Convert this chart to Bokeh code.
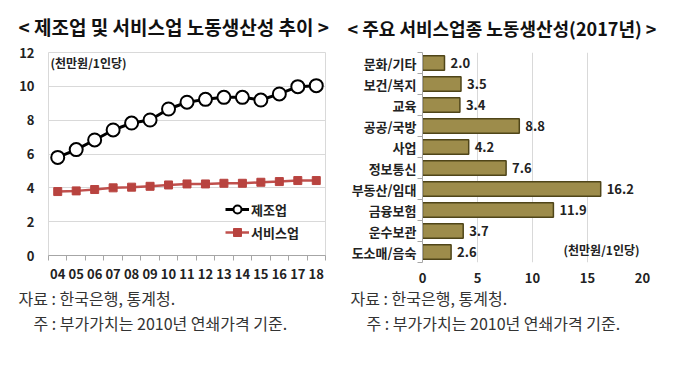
from bokeh.plotting import figure
from bokeh.layouts import row, column
from bokeh.models import (Range1d, FixedTicker, Label, Legend, LegendItem,
                          ColumnDataSource, LabelSet)
from bokeh.core.properties import value
from bokeh.embed import file_html
from bokeh.resources import INLINE

# ---------------- data ----------------
years = ["04", "05", "06", "07", "08", "09", "10", "11", "12", "13", "14", "15", "16", "17", "18"]
manufacturing = [5.80, 6.26, 6.83, 7.42, 7.83, 8.01, 8.66, 9.06, 9.23, 9.35, 9.35, 9.19, 9.55, 9.98, 10.04]
services = [3.78, 3.82, 3.90, 4.00, 4.04, 4.09, 4.17, 4.23, 4.23, 4.27, 4.27, 4.33, 4.37, 4.43, 4.43]
left_y_ticks = [0, 2, 4, 6, 8, 10, 12]

industries = ["문화/기타", "보건/복지", "교육", "공공/국방", "사업", "정보통신",
              "부동산/임대", "금융보험", "운수보관", "도소매/음숙"]
productivity_2017 = [2.0, 3.5, 3.4, 8.8, 4.2, 7.6, 16.2, 11.9, 3.7, 2.6]
right_x_ticks = [0, 5, 10, 15, 20]

title_left = "< 제조업 및 서비스업 노동생산성 추이 >"
title_right = "< 주요 서비스업종 노동생산성(2017년) >"
unit_text = "(천만원/1인당)"
legend_labels = ["제조업", "서비스업"]
source_text = "자료 : 한국은행, 통계청."
note_text = "주 : 부가가치는 2010년 연쇄가격 기준."

FONT = "Noto Sans CJK KR"
TXT = "#222222"
HALF_W = 340
TOP_H = 40
FOOT_H = 80


def strip(height):
    s = figure(width=HALF_W, height=height, min_border=0,
               x_range=Range1d(0, HALF_W), y_range=Range1d(height, 0),
               output_backend="svg", toolbar_location=None, tools="", title=None)
    s.axis.visible = False
    s.grid.grid_line_color = None
    s.outline_line_color = None
    return s


def txt(fig, x, y, text, size, bold=False, color=TXT):
    fig.add_layout(Label(x=x, y=y, text=text, text_font=FONT, text_font_size=size,
                         text_font_style="bold" if bold else "normal",
                         text_color=color, text_baseline="middle"))


# ---------------- title strips ----------------
t1 = strip(TOP_H)
txt(t1, 18, 26, title_left, "19px", True, "#111111")
t2 = strip(TOP_H)
txt(t2, 7, 27, title_right, "18px", True, "#111111")

# ---------------- left chart ----------------
idx = list(range(len(years)))
p1 = figure(frame_width=277, frame_height=203, min_border_left=48, min_border_right=15,
            min_border_top=12, min_border_bottom=32,
            x_range=Range1d(-0.5, len(years) - 0.5), y_range=Range1d(0, 12),
            output_backend="svg", toolbar_location=None, tools="", title=None)
p1.outline_line_color = "#d9d9d9"
p1.xgrid.grid_line_color = None
p1.ygrid.grid_line_color = "#d9d9d9"
p1.ygrid.ticker = FixedTicker(ticks=left_y_ticks)

p1.yaxis.ticker = FixedTicker(ticks=left_y_ticks)
p1.yaxis.axis_line_color = None
p1.yaxis.major_tick_line_color = None
p1.yaxis.minor_tick_line_color = None
p1.yaxis.major_tick_out = 0
p1.yaxis.major_label_standoff = 14

p1.xaxis.ticker = FixedTicker(ticks=idx, minor_ticks=[i - 0.5 for i in range(len(years) + 1)])
p1.xaxis.major_label_overrides = {i: y for i, y in zip(idx, years)}
p1.xaxis.axis_line_color = "#a6a6a6"
p1.xaxis.major_tick_line_color = None
p1.xaxis.major_tick_out = 0
p1.xaxis.major_tick_in = 0
p1.xaxis.minor_tick_line_color = "#a6a6a6"
p1.xaxis.minor_tick_out = 5
p1.xaxis.minor_tick_in = 0
p1.xaxis.major_label_standoff = 8

for ax in (p1.xaxis[0], p1.yaxis[0]):
    ax.major_label_text_font = FONT
    ax.major_label_text_font_size = "13px"
    ax.major_label_text_font_style = "bold"
    ax.major_label_text_color = TXT

src1 = ColumnDataSource(dict(x=idx, m=manufacturing, s=services))
l_s = p1.line("x", "s", source=src1, line_color="#c0504d", line_width=2.5)
m_s = p1.scatter("x", "s", source=src1, marker="square", size=8,
                 fill_color="#b8433f", line_color="#b8433f")
l_m = p1.line("x", "m", source=src1, line_color="black", line_width=3)
m_m = p1.scatter("x", "m", source=src1, marker="circle", size=13,
                 fill_color="white", line_color="black", line_width=2)

legend = Legend(items=[LegendItem(label=legend_labels[0], renderers=[l_m, m_m]),
                       LegendItem(label=legend_labels[1], renderers=[l_s, m_s])],
                location=(177, 13), orientation="vertical",
                glyph_width=24, glyph_height=20, label_height=20, spacing=3,
                padding=0, margin=0, label_standoff=2,
                label_text_font=FONT, label_text_font_size="13px",
                label_text_font_style="bold", label_text_color=TXT,
                background_fill_alpha=0, border_line_color=None)
p1.add_layout(legend)

p1.add_layout(Label(x=-0.5, y=12, x_offset=2, y_offset=-10, text=unit_text,
                    text_font=FONT, text_font_size="12px", text_font_style="bold",
                    text_color=TXT, text_baseline="middle"))

# ---------------- right chart ----------------
ridx = list(range(len(industries)))
p2 = figure(frame_width=220, frame_height=210, min_border_left=82, min_border_right=38,
            min_border_top=10, min_border_bottom=27,
            x_range=Range1d(0, 20), y_range=Range1d(len(industries) - 0.5, -0.5),
            output_backend="svg", toolbar_location=None, tools="", title=None)
p2.outline_line_color = None
p2.ygrid.grid_line_color = None
p2.xgrid.grid_line_color = "#d9d9d9"
p2.xgrid.ticker = FixedTicker(ticks=right_x_ticks)

src2 = ColumnDataSource(dict(y=ridx, v=productivity_2017,
                             t=[f"{v:.1f}" for v in productivity_2017]))
p2.hbar(y="y", left=0, right="v", height=0.7, source=src2,
        fill_color="#9d8c4b", line_color="#4f4519", line_width=1.5)
p2.add_layout(LabelSet(x="v", y="y", text="t", source=src2, x_offset=6,
                       text_baseline="middle", text_font=value(FONT),
                       text_font_size=value("13px"), text_font_style="bold",
                       text_color=TXT))

p2.xaxis.ticker = FixedTicker(ticks=right_x_ticks)
p2.xaxis.axis_line_color = None
p2.xaxis.major_tick_line_color = None
p2.xaxis.minor_tick_line_color = None
p2.xaxis.major_tick_out = 0
p2.xaxis.major_label_standoff = 10

p2.yaxis.ticker = FixedTicker(ticks=ridx, minor_ticks=[i - 0.5 for i in range(len(industries) + 1)])
p2.yaxis.major_label_overrides = {i: c for i, c in zip(ridx, industries)}
p2.yaxis.axis_line_color = "#a6a6a6"
p2.yaxis.major_tick_line_color = None
p2.yaxis.major_tick_out = 0
p2.yaxis.major_tick_in = 0
p2.yaxis.minor_tick_line_color = "#a6a6a6"
p2.yaxis.minor_tick_out = 5
p2.yaxis.minor_tick_in = 0
p2.yaxis.major_label_standoff = 1

for ax in (p2.xaxis[0], p2.yaxis[0]):
    ax.major_label_text_font = FONT
    ax.major_label_text_font_size = "13px"
    ax.major_label_text_font_style = "bold"
    ax.major_label_text_color = TXT

p2.add_layout(Label(x=20, y=len(industries) - 0.5, x_offset=-3, y_offset=13, text=unit_text,
                    text_font=FONT, text_font_size="12px", text_font_style="bold",
                    text_color=TXT, text_baseline="middle", text_align="right"))

# ---------------- footer strips ----------------
f1 = strip(FOOT_H)
txt(f1, 18, 10, source_text, "16px", False, "#333333")
txt(f1, 33, 35, note_text, "16px", False, "#333333")
f2 = strip(FOOT_H)
txt(f2, 10, 10, source_text, "16px", False, "#333333")
txt(f2, 26, 35, note_text, "16px", False, "#333333")

layout = column(row(t1, t2, spacing=0), row(p1, p2, spacing=0), row(f1, f2, spacing=0), spacing=0)
open("out.html", "w").write(file_html(layout, INLINE))
